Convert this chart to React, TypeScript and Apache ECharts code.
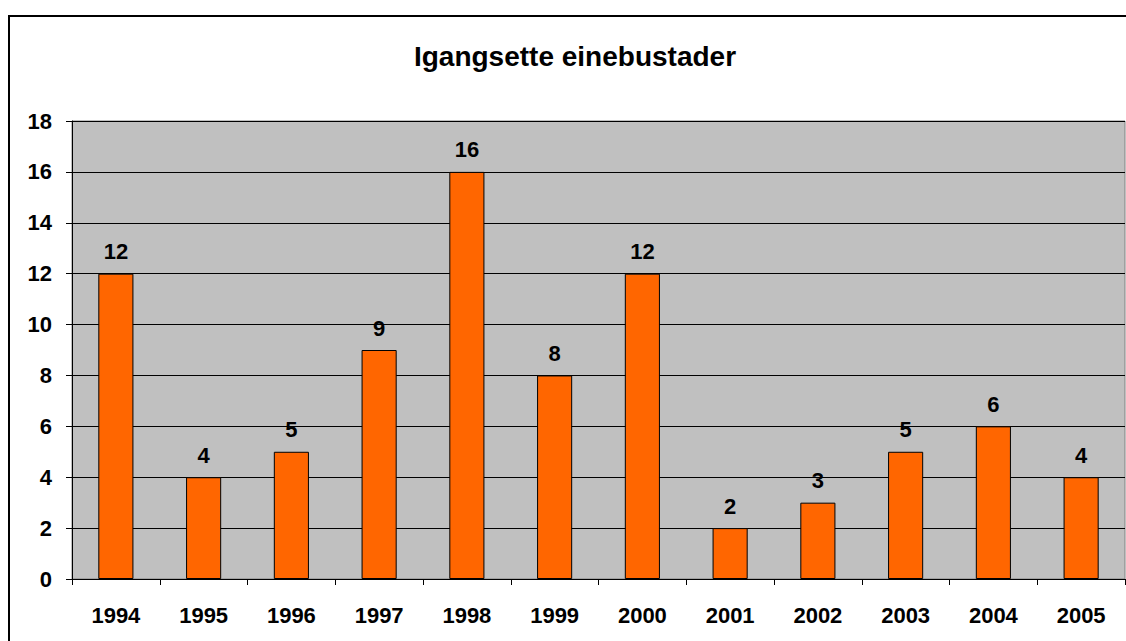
import React, { useEffect, useRef } from "react";
import * as echarts from "echarts";

const years = ["1994", "1995", "1996", "1997", "1998", "1999", "2000", "2001", "2002", "2003", "2004", "2005"];
const values = [12, 4, 5, 9, 16, 8, 12, 2, 3, 5, 6, 4];
const titleText = "Igangsette einebustader";

export default function App() {
  const ref = useRef<HTMLDivElement>(null);
  useEffect(() => {
    if (!ref.current) return;
    const chart = echarts.init(ref.current, null, { renderer: "svg" });
    const font = "Liberation Sans, Arial, sans-serif";
    chart.setOption({
      animation: false,
      title: {
        text: titleText,
        left: "center",
        top: 20,
        textStyle: { fontFamily: font, fontSize: 28, fontWeight: "bold", color: "#000" },
      },
      grid: {
        left: 62,
        right: 15,
        top: 104,
        bottom: 78,
        show: true,
        backgroundColor: "#C0C0C0",
        borderColor: "#808080",
        borderWidth: 1,
      },
      xAxis: {
        type: "category",
        data: years,
        axisLine: { lineStyle: { color: "#000", width: 1 } },
        axisTick: { show: true, length: 6, lineStyle: { color: "#000" } },
        axisLabel: { fontFamily: font, fontSize: 22, fontWeight: "bold", color: "#000", margin: 25 },
      },
      yAxis: {
        type: "value",
        min: 0,
        max: 18,
        interval: 2,
        axisLine: { show: true, lineStyle: { color: "#000", width: 1 } },
        axisTick: { show: true, length: 6, lineStyle: { color: "#000" } },
        axisLabel: { fontFamily: font, fontSize: 22, fontWeight: "bold", color: "#000", margin: 20 },
        splitLine: { show: true, lineStyle: { color: "#000", width: 1 } },
      },
      series: [
        {
          type: "bar",
          data: values,
          barWidth: "40%",
          itemStyle: { color: "#FF6600", borderColor: "#000", borderWidth: 1 },
          label: {
            show: true,
            position: "top",
            distance: 11,
            fontFamily: font,
            fontSize: 22,
            fontWeight: "bold",
            color: "#000",
          },
        },
      ],
    });
    return () => chart.dispose();
  }, []);
  return (
    <div
      style={{
        position: "absolute",
        left: 8,
        top: 15,
        width: 1134,
        height: 644,
        border: "2px solid #000",
        boxSizing: "border-box",
        background: "#fff",
      }}
    >
      <div ref={ref} style={{ width: 1130, height: 640 }} />
    </div>
  );
}
